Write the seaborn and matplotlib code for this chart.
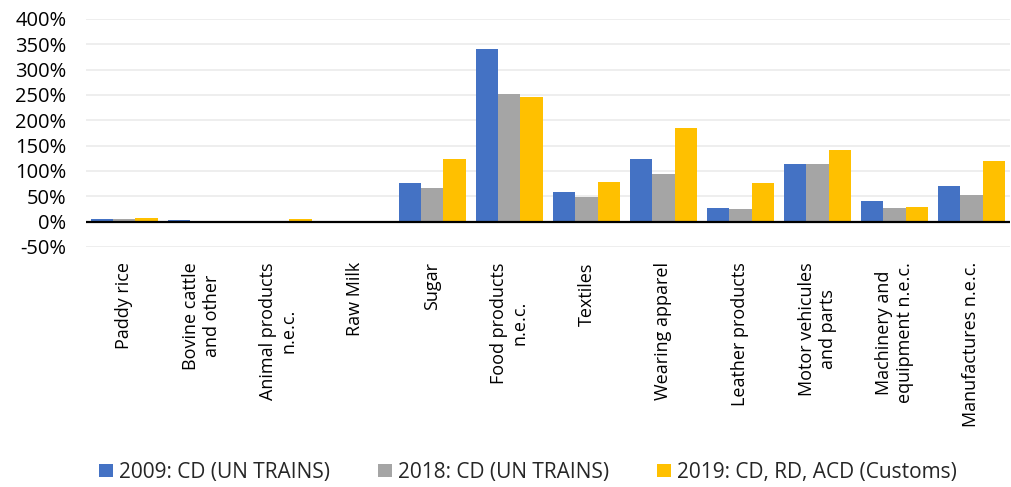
import matplotlib
matplotlib.use("Agg")
import matplotlib.pyplot as plt
import matplotlib.ticker as mticker
import seaborn as sns
import pandas as pd

categories = [
    "Paddy rice", "Bovine cattle\nand other", "Animal products\nn.e.c.", "Raw Milk",
    "Sugar", "Food products\nn.e.c.", "Textiles", "Wearing apparel",
    "Leather products", "Motor vehicules\nand parts", "Machinery and\nequipment n.e.c.",
    "Manufactures n.e.c.",
]
series_names = ["2009: CD (UN TRAINS)", "2018: CD (UN TRAINS)", "2019: CD, RD, ACD (Customs)"]
cd_2009 = [5, 2.5, -3, 0.3, 76, 341, 58, 124, 26, 113, 40, 70]
cd_2018 = [6, 0.3, -3, 0.3, 67, 252, 48, 93, 24, 113, 27, 53]
customs_2019 = [8, 0.5, 6, -2, 124, 246, 78, 185, 76, 142, 28, 120]
colors = ["#4472C4", "#A5A5A5", "#FFC000"]

rows = []
for name, vals in zip(series_names, [cd_2009, cd_2018, customs_2019]):
    for cat, v in zip(categories, vals):
        rows.append({"sector": cat, "series": name, "value": v})
df = pd.DataFrame(rows)

sns.set_theme(style="white")
plt.rcParams["font.family"] = ["Open Sans", "DejaVu Sans"]

fig = plt.figure(figsize=(10.11, 4.87), dpi=100)
ax = fig.add_axes([0.085, 0.493, 0.914, 0.468])

sns.barplot(data=df, x="sector", y="value", hue="series", palette=colors,
            order=categories, hue_order=series_names, width=0.86,
            saturation=1, linewidth=0, ax=ax, legend=True)

ax.set_ylim(-50, 400)
ax.set_xlim(-0.5, len(categories) - 0.5)
ax.set_yticks(range(-50, 401, 50))
ax.yaxis.set_major_formatter(mticker.FuncFormatter(lambda v, p: f"{int(v)}%"))
ax.grid(axis="y", color="#EBEBEB", linewidth=1.2)
ax.set_axisbelow(True)
ax.axhline(0, color="black", linewidth=1.6, zorder=3)
for s in ax.spines.values():
    s.set_visible(False)
ax.set_xlabel("")
ax.set_ylabel("")
ax.set_xticks(range(len(categories)))
ax.set_xticklabels(categories, rotation=90, ha="center", va="top",
                   multialignment="center", fontsize=13)
ax.tick_params(axis="both", length=0, colors="black")
ax.tick_params(axis="x", pad=11)
ax.tick_params(axis="y", pad=14, labelsize=14.5)

handles, labels = ax.get_legend_handles_labels()
ax.get_legend().remove()
fig.legend(handles, labels, loc="center", bbox_to_anchor=(528 / 1011, 0.03),
           ncol=3, frameon=False, fontsize=15, handlelength=0.67, handleheight=0.6,
           handletextpad=0.3, columnspacing=2.3)

fig.savefig("out.png", dpi=100)
